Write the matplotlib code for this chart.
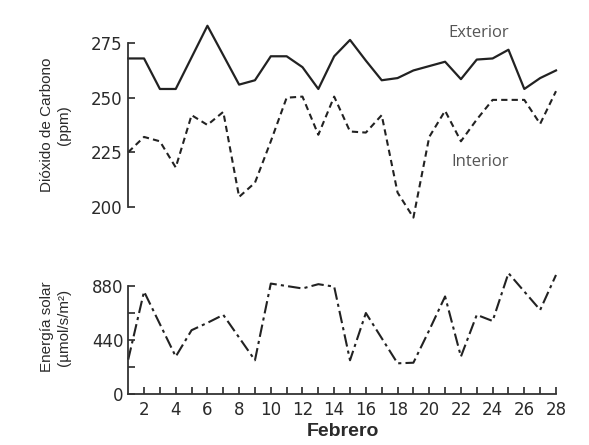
import matplotlib
matplotlib.use("Agg")
import matplotlib.pyplot as plt
import numpy as np

plt.rcParams['font.family'] = ['Liberation Sans', 'DejaVu Sans']

days = list(range(1, 29))
exterior = [268, 268, 254, 254, 268.5, 283, 269.5, 256, 258, 269, 269, 264, 254, 269,
            276.5, 267, 258, 259, 262.5, 264.5, 266.5, 258.5, 267.5, 268, 272, 254, 259, 262.5]
interior = [225, 232, 230, 218, 242, 237.5, 243.5, 204.5, 211, 230, 250, 250.5, 233, 250.5,
            234.5, 234, 242, 206.5, 195, 232, 244, 230, 240, 249, 249, 249, 238, 253]
solar = [280, 835, 570, 305, 520, 580, 645, 460, 275, 900, 880, 860, 895, 875,
         275, 660, 455, 250, 255, 520, 795, 305, 645, 595, 985, 835, 685, 970]

co2_ticks = [200, 225, 250, 275]
solar_ticks = [0, 440, 880]
solar_minor = [220, 660]
xtick_labels = list(range(2, 29, 2))

W, H = 589, 445
fig = plt.figure(figsize=(W / 100, H / 100), dpi=100)

left = 128.2 / W
width = (556 - 128.2) / W
col = '#222222'
tcol = '#2a2a2a'
tickfont = {'family': ['DejaVu Sans'], 'size': 12}

# top axes
ax1 = fig.add_axes([left, 1 - 228.5 / H, width, (228.5 - 21.4) / H])
ax1.plot(days, exterior, color=col, lw=1.6, ls='-', clip_on=False)
ax1.plot(days, interior, color=col, lw=1.5, ls=(0, (3, 2)), clip_on=False)
ax1.set_xlim(1, 28)
ax1.set_ylim(190, 285)
for s in ['top', 'right', 'bottom']:
    ax1.spines[s].set_visible(False)
ax1.spines['left'].set_bounds(200, 275)
ax1.spines['left'].set_linewidth(1.3)
ax1.spines['left'].set_color('#333333')
ax1.set_xticks([])
ax1.set_yticks(co2_ticks)
ax1.set_yticklabels([str(v) for v in co2_ticks], fontdict=tickfont)
ax1.tick_params(axis='y', direction='in', length=5, width=1.2,
                colors=tcol, pad=4)
ax1.text(23.1, 279.7, 'Exterior', fontsize=12, family=['Open Sans'], color='#555555',
         ha='center', va='center')
ax1.text(23.2, 220.5, 'Interior', fontsize=12, family=['Open Sans'], color='#555555',
         ha='center', va='center')
ax1.patch.set_visible(False)

# bottom axes
ax2 = fig.add_axes([left, 1 - 394 / H, width, 122.7 / H])
ax2.plot(days, solar, color=col, lw=1.5, ls=(0, (6, 2, 1.5, 2)), clip_on=False)
ax2.set_xlim(1, 28)
ax2.set_ylim(0, 1000)
for s in ['top', 'right']:
    ax2.spines[s].set_visible(False)
ax2.spines['left'].set_bounds(0, 880)
for s in ['left', 'bottom']:
    ax2.spines[s].set_linewidth(1.3)
    ax2.spines[s].set_color('#333333')
ax2.set_yticks(solar_ticks)
ax2.set_yticklabels([str(v) for v in solar_ticks], fontdict=tickfont)
ax2.set_yticks(solar_minor, minor=True)
ax2.set_xticks(xtick_labels)
ax2.set_xticklabels([str(v) for v in xtick_labels], fontdict=tickfont)
ax2.set_xticks(days[2::2], minor=True)
ax2.tick_params(axis='both', which='both', direction='in', length=5, width=1.2,
                colors=tcol)
ax2.tick_params(axis='x', pad=5)
ax2.patch.set_visible(False)

fig.text(55.5 / W, 1 - 125 / H, 'Dióxido de Carbono\n(ppm)', rotation=90,
         ha='center', va='center', multialignment='center', fontsize=11,
         linespacing=1.35, color=tcol)
fig.text(55.5 / W, 1 - 327 / H, 'Energía solar\n(µmol/s/m²)', rotation=90,
         ha='center', va='center', multialignment='center', fontsize=11,
         linespacing=1.35, color=tcol)
fig.text(343 / W, 1 - 431 / H, 'Febrero', ha='center', va='center', fontsize=14,
         fontweight='bold', color=tcol)

fig.savefig('out.png', dpi=100)
